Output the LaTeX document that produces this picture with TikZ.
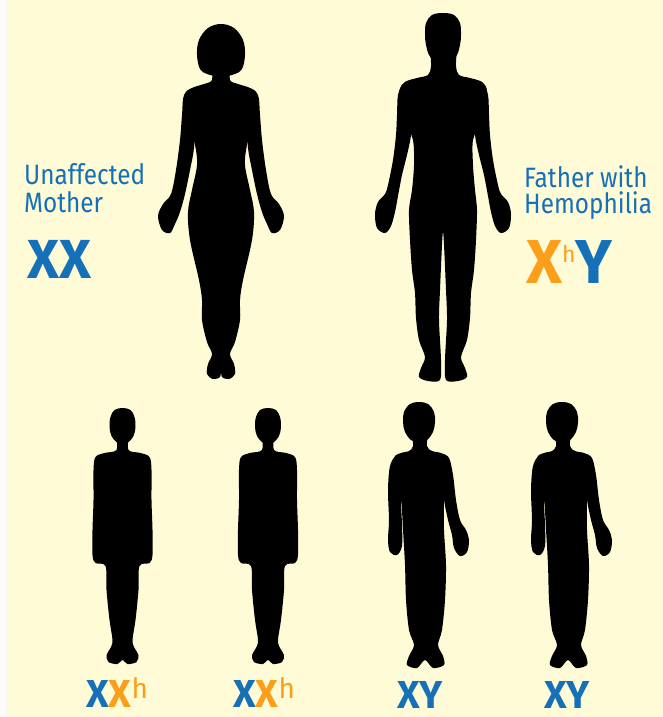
\documentclass[tikz,border=0pt]{standalone}
\usepackage{fontspec}
\newfontfamily\labelfont[FakeStretch=0.87]{Fira Sans}
\newfontfamily\genefont{Fira Sans}

\definecolor{paper}{HTML}{FFFBD7}
\definecolor{strip}{HTML}{FDFBF8}
\definecolor{geneblue}{HTML}{1570B8}
\definecolor{geneorange}{HTML}{FB9F1A}

\tikzset{
  body/.style={fill=black},
  caption/.style={font=\labelfont\fontsize{28}{28}\selectfont, text=geneblue,
    anchor=base west, inner sep=0pt},
  bigpair/.style={font=\genefont\bfseries\fontsize{55}{55}\selectfont,
    anchor=base west, inner sep=0pt},
  smallpair/.style={font=\genefont\bfseries\fontsize{39}{39}\selectfont,
    anchor=base west, inner sep=0pt, text depth=0pt},
  % adult woman, origin on the body axis, y measured from the top edge
  mother/.pic={
    \fill[body] plot[smooth cycle,tension=0.6] coordinates {
      (0,24) (-13,28) (-22,40) (-24,55) (-21,69) (-14,74) (-6,76) (0,77)
      (6,76) (14,74) (21,69) (24,55) (22,40) (13,28)};
    \fill[body] plot[smooth cycle,tension=0.55] coordinates {
      (-8,66) (-9,80) (-17,84) (-29,88) (-36,95) (-33,120) (-26,145)
      (-24,165) (-29,190) (-33,212) (-31,240) (-22,280) (-19,300) (-19,320)
      (-14,342) (-9,354) (-13,364) (-14,374) (-8,379) (-1,377) (0,370)
      (1,377) (8,379) (14,374) (13,364) (9,354) (14,342) (19,320) (19,300)
      (22,280) (31,240) (33,212) (29,190) (24,165) (26,145) (33,120)
      (36,95) (29,88) (17,84) (9,80) (8,66)};
    \foreach \side in {1,-1}{
      \begin{scope}[xscale=\side]
        \fill[body] plot[smooth cycle,tension=0.55] coordinates {
          (-28,88) (-37,95) (-39,115) (-41,140) (-45,170) (-50,194)
          (-58,204) (-63,216) (-59,230) (-51,233) (-46,224) (-41,212)
          (-36,194) (-31,170) (-27,148) (-26,120) (-25,95)};
      \end{scope}
    }
  },
  % adult man
  father/.pic={
    \fill[body] plot[smooth cycle,tension=0.6] coordinates {
      (0,13) (-11,15) (-17,23) (-18,35) (-17,45) (-14,55) (-8,62) (0,65)
      (8,62) (14,55) (17,45) (18,35) (17,23) (11,15)};
    \fill[body] plot[smooth cycle,tension=0.5] coordinates {
      (-11,42) (-12,66) (-15,75) (-26,78) (-38,82) (-43,92) (-38,120)
      (-30,140) (-29,165) (-31,190) (-34,210) (-33,240) (-31,270)
      (-28,293) (-27,318) (-24,340) (-18,357) (-22,368) (-24,377)
      (-15,381) (-3,380) (-2,360) (-4,320) (-3,290) (-1,245) (0,232)
      (1,245) (3,290) (4,320) (2,360) (3,380) (15,381) (24,377) (22,368)
      (18,357) (24,340) (27,318) (28,293) (31,270) (33,240) (34,210)
      (32,190) (30,165) (30,140) (38,120) (44,92) (39,82) (27,78) (16,75)
      (13,66) (12,42)};
    \foreach \side in {1,-1}{
      \begin{scope}[xscale=\side]
        \fill[body] plot[smooth cycle,tension=0.55] coordinates {
          (-40,84) (-45,95) (-46,115) (-47,135) (-50,160) (-55,185)
          (-58,194) (-65,202) (-68,214) (-66,228) (-58,233) (-52,226)
          (-48,212) (-45,196) (-41,175) (-36,155) (-32,135) (-31,110)
          (-33,90)};
      \end{scope}
    }
  },
  % girl
  girl/.pic={
    \fill[body] plot[smooth cycle,tension=0.6] coordinates {
      (0,408) (-8,410) (-12,417) (-13,427) (-11,436) (-6,442) (0,444)
      (6,442) (11,436) (13,427) (12,417) (8,410)};
    \fill[body] plot[smooth cycle,tension=0.55] coordinates {
      (-5,436) (-6,450) (-18,453) (-27,457) (-29,470) (-29,500) (-30,530)
      (-30,555) (-27,563) (-17,566) (-16,590) (-13,620) (-10,640)
      (-12,648) (-16,655) (-14,662) (-5,664) (0,660) (5,664) (14,662)
      (16,655) (12,648) (10,640) (13,620) (16,590) (17,566) (27,563)
      (30,555) (30,530) (29,500) (29,470) (27,457) (18,453) (6,450) (5,436)};
  },
  % boy
  boy/.pic={
    \fill[body] plot[smooth cycle,tension=0.6] coordinates {
      (-3,402) (-12,404) (-18,412) (-19,422) (-17,432) (-11,440) (-3,443)
      (5,440) (11,432) (13,422) (12,412) (6,404)};
    \fill[body] plot[smooth cycle,tension=0.5] coordinates {
      (-9,428) (-9,446) (-13,451) (-21,453) (-28,458) (-27,480) (-21,500)
      (-19,530) (-17,565) (-16,600) (-13,630) (-8,645) (-13,656)
      (-15,665) (-5,668) (3,660) (11,668) (22,665) (21,656) (16,645)
      (20,630) (23,600) (24,565) (22,530) (22,500) (24,480) (25,458)
      (19,453) (10,451) (5,446) (5,428)};
    \fill[body] plot[smooth cycle,tension=0.55] coordinates {
      (-26,456) (-32,466) (-34,490) (-33,520) (-34,540) (-32,552)
      (-25,555) (-20,546) (-20,525) (-21,500) (-20,475) (-20,460)};
    \fill[body] plot[smooth cycle,tension=0.55] coordinates {
      (20,456) (27,458) (31,475) (34,500) (38,520) (44,530) (47,540)
      (45,552) (38,556) (32,548) (30,535) (26,520) (22,500) (20,480)};
  }
}

\begin{document}
\begin{tikzpicture}[x=1pt,y=-1pt]
  \useasboundingbox (0,0) rectangle (663,717);
  \fill[paper] (0,0) rectangle (663,717);
  \fill[strip] (0,0) rectangle (7,717);

  % parents
  \pic (mom) at (221,0) {mother};
  \pic (dad) at (443,0) {father};

  % children
  \pic (kidA) at (122.5,0) {girl};
  \pic (kidB) at (268,0) {girl};
  \pic (kidC) at (422,0) {boy};
  \pic (kidD) at (565,0) {boy};

  % parent captions
  \node[caption] (momA) at (24,184) {Unaffected};
  \node[caption] (momB) at (24,212) {Mother};
  \node[bigpair, text=geneblue] (momG) at (27,278) {XX};

  \node[caption] (dadA) at (524,187) {Father with};
  \node[caption] (dadB) at (524,213) {Hemophilia};
  \node[bigpair] (dadG) at (526,283) {\fontsize{62}{62}\selectfont
    \textcolor{geneorange}{X\raisebox{21pt}{\mdseries\fontsize{23}{23}\selectfont h}}%
    \textcolor{geneblue}{Y}};

  % children genotypes
  \node[smallpair] (kidAG) at (86,707) {\textcolor{geneblue}{X}%
    \textcolor{geneorange}{X\raisebox{9pt}{\mdseries\fontsize{28}{28}\selectfont h}}};
  \node[smallpair] (kidBG) at (233,707) {\textcolor{geneblue}{X}%
    \textcolor{geneorange}{X\raisebox{9pt}{\mdseries\fontsize{28}{28}\selectfont h}}};
  \node[smallpair, text=geneblue] (kidCG) at (397,708) {XY};
  \node[smallpair, text=geneblue] (kidDG) at (544,708) {XY};
\end{tikzpicture}
\end{document}
